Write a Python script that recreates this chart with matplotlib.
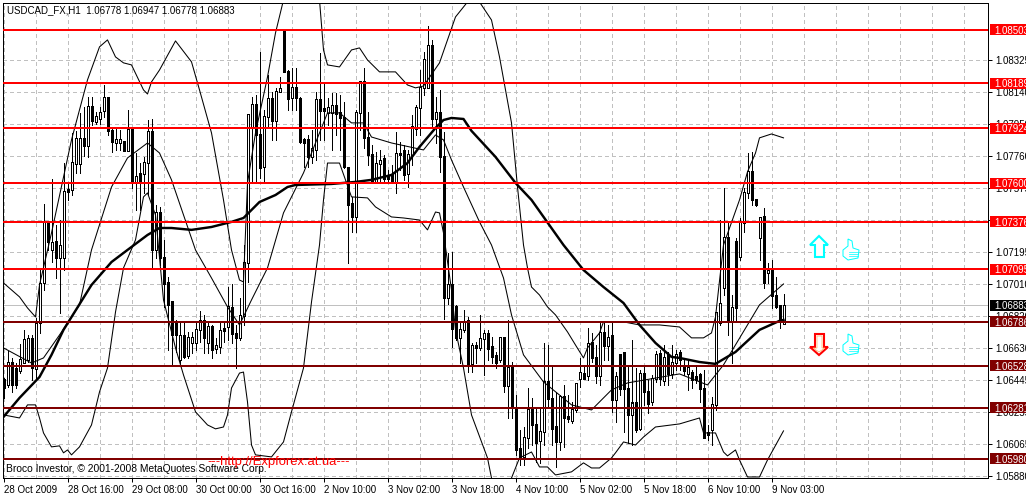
import matplotlib
matplotlib.use("Agg")
import matplotlib.pyplot as plt
import numpy as np
from matplotlib.lines import Line2D
from matplotlib.patches import Polygon, Rectangle
from matplotlib.transforms import blended_transform_factory

# hourly candles
opens = [
    1.06445, 1.06415, 1.06550, 1.06509, 1.06503, 1.06550, 1.06562, 1.06686, 1.06509, 1.06780,
    1.07015, 1.07368, 1.07209, 1.07256, 1.07162, 1.07162, 1.07562, 1.07562, 1.07720, 1.07720,
    1.07862, 1.07826, 1.08050, 1.07962, 1.07979, 1.08026, 1.08103, 1.07909, 1.07838, 1.07838,
    1.07844, 1.07791, 1.07915, 1.07609, 1.07656, 1.07656, 1.07726, 1.07903, 1.07209, 1.07427,
    1.07162, 1.07015, 1.06903, 1.06786, 1.06562, 1.06703, 1.06586, 1.06662, 1.06662, 1.06739,
    1.06797, 1.06662, 1.06756, 1.06627, 1.06639, 1.06750, 1.06756, 1.06868, 1.06715, 1.06697,
    1.06821, 1.07138, 1.07932, 1.08062, 1.07885, 1.07697, 1.07991, 1.08097, 1.07973, 1.08138,
    1.08503, 1.08256, 1.08103, 1.08167, 1.08097, 1.07856, 1.07856, 1.07756, 1.07797, 1.08091,
    1.08038, 1.08020, 1.08015, 1.08056, 1.08015, 1.07985, 1.07691, 1.07480, 1.07403, 1.08020,
    1.08197, 1.07868, 1.07768, 1.07609, 1.07720, 1.07744, 1.07644, 1.07650, 1.07609, 1.07779,
    1.07791, 1.07656, 1.07768, 1.07926, 1.08044, 1.08167, 1.08167, 1.08414, 1.07979, 1.08015,
    1.07756, 1.06927, 1.07003, 1.06874, 1.06692, 1.06739, 1.06797, 1.06539, 1.06650, 1.06633,
    1.06686, 1.06715, 1.06639, 1.06586, 1.06562, 1.06692, 1.06409, 1.06515, 1.06280, 1.06039,
    1.05992, 1.06109, 1.06268, 1.06180, 1.06086, 1.06139, 1.06433, 1.06333, 1.06168, 1.06080,
    1.06345, 1.06227, 1.06209, 1.06268, 1.06451, 1.06485, 1.06468, 1.06662, 1.06574, 1.06468,
    1.06721, 1.06645, 1.06703, 1.06327, 1.06592, 1.06603, 1.06392, 1.06239, 1.06309, 1.06162,
    1.06485, 1.06374, 1.06315, 1.06456, 1.06598, 1.06439, 1.06592, 1.06485, 1.06550, 1.06603,
    1.06521, 1.06485, 1.06491, 1.06462, 1.06474, 1.06397, 1.06133, 1.06151, 1.06298, 1.06780,
    1.06986, 1.07280, 1.06786, 1.07256, 1.07168, 1.07368, 1.07544, 1.07668, 1.07503, 1.07285,
    1.07403, 1.07074, 1.07091, 1.06944, 1.06880, 1.06778,
]
highs = [
    1.06456, 1.06615, 1.06574, 1.06544, 1.06656, 1.06739, 1.06709, 1.06709, 1.06809, 1.07091,
    1.07480, 1.07374, 1.07626, 1.07356, 1.07385, 1.07720, 1.07609, 1.07897, 1.07909, 1.08015,
    1.08050, 1.08109, 1.08109, 1.08020, 1.08050, 1.08179, 1.08103, 1.07932, 1.07932, 1.07915,
    1.07844, 1.08032, 1.07915, 1.07779, 1.07720, 1.07756, 1.07973, 1.07979, 1.07474, 1.07462,
    1.07268, 1.07050, 1.06903, 1.06797, 1.06786, 1.06786, 1.06727, 1.06727, 1.06786, 1.06850,
    1.06827, 1.06780, 1.06768, 1.06692, 1.06780, 1.06780, 1.06991, 1.07009, 1.06768, 1.06927,
    1.07238, 1.08003, 1.08109, 1.08120, 1.08373, 1.08032, 1.08238, 1.08138, 1.08162, 1.08226,
    1.08503, 1.08267, 1.08279, 1.08279, 1.08109, 1.07868, 1.07885, 1.07915, 1.08138, 1.08367,
    1.08185, 1.08103, 1.08132, 1.08132, 1.08120, 1.08079, 1.07691, 1.07521, 1.08032, 1.08197,
    1.08279, 1.08020, 1.07826, 1.07785, 1.07797, 1.07768, 1.07679, 1.07709, 1.07903, 1.07844,
    1.07826, 1.07797, 1.08003, 1.08062, 1.08267, 1.08373, 1.08526, 1.08444, 1.08109, 1.08150,
    1.07903, 1.07191, 1.07197, 1.06886, 1.06786, 1.06856, 1.06815, 1.06662, 1.06668, 1.06827,
    1.06739, 1.06739, 1.06697, 1.06609, 1.06697, 1.06697, 1.06797, 1.06550, 1.06356, 1.06151,
    1.06168, 1.06397, 1.06339, 1.06280, 1.06280, 1.06662, 1.06650, 1.06533, 1.06374, 1.06356,
    1.06415, 1.06356, 1.06315, 1.06421, 1.06574, 1.06533, 1.06750, 1.06721, 1.06650, 1.06786,
    1.06792, 1.06768, 1.06786, 1.06491, 1.06592, 1.06609, 1.06521, 1.06680, 1.06515, 1.06503,
    1.06521, 1.06445, 1.06474, 1.06615, 1.06621, 1.06650, 1.06609, 1.06650, 1.06621, 1.06621,
    1.06574, 1.06562, 1.06503, 1.06533, 1.06485, 1.06503, 1.06180, 1.06345, 1.06845, 1.07385,
    1.07574, 1.07374, 1.06944, 1.07280, 1.07397, 1.07574, 1.07779, 1.07785, 1.07503, 1.07397,
    1.07456, 1.07133, 1.07150, 1.07050, 1.06880, 1.06947,
]
lows = [
    1.06339, 1.06403, 1.06374, 1.06397, 1.06485, 1.06550, 1.06550, 1.06445, 1.06456, 1.06721,
    1.06974, 1.07209, 1.07138, 1.07044, 1.06839, 1.07091, 1.07503, 1.07532, 1.07662, 1.07662,
    1.07762, 1.07756, 1.07944, 1.07950, 1.07950, 1.07991, 1.07885, 1.07785, 1.07797, 1.07797,
    1.07791, 1.07791, 1.07574, 1.07444, 1.07444, 1.07544, 1.07532, 1.07103, 1.07162, 1.07121,
    1.06874, 1.06621, 1.06533, 1.06609, 1.06544, 1.06574, 1.06574, 1.06603, 1.06621, 1.06668,
    1.06603, 1.06603, 1.06574, 1.06603, 1.06603, 1.06668, 1.06680, 1.06662, 1.06515, 1.06680,
    1.06768, 1.07021, 1.07603, 1.07603, 1.07632, 1.07603, 1.07932, 1.07856, 1.07856, 1.08138,
    1.08256, 1.08032, 1.08032, 1.08032, 1.07838, 1.07697, 1.07697, 1.07720, 1.07738, 1.07856,
    1.07856, 1.07944, 1.07797, 1.07885, 1.07797, 1.07691, 1.07133, 1.07315, 1.07315, 1.07915,
    1.07809, 1.07709, 1.07609, 1.07609, 1.07609, 1.07603, 1.07609, 1.07609, 1.07544, 1.07679,
    1.07621, 1.07579, 1.07709, 1.07885, 1.07885, 1.08120, 1.08162, 1.07926, 1.07838, 1.07668,
    1.06803, 1.06891, 1.06639, 1.06680, 1.06544, 1.06727, 1.06491, 1.06491, 1.06544, 1.06621,
    1.06474, 1.06562, 1.06544, 1.06515, 1.06550, 1.06374, 1.06221, 1.06221, 1.06004, 1.05945,
    1.05945, 1.06045, 1.06062, 1.05962, 1.05957, 1.06062, 1.06280, 1.06062, 1.05933, 1.06033,
    1.06051, 1.06198, 1.06192, 1.06257, 1.06403, 1.06456, 1.06445, 1.06550, 1.06427, 1.06415,
    1.06562, 1.06562, 1.06257, 1.06198, 1.06356, 1.06139, 1.06074, 1.06062, 1.06139, 1.06151,
    1.06298, 1.06251, 1.06298, 1.06433, 1.06415, 1.06415, 1.06415, 1.06456, 1.06503, 1.06503,
    1.06474, 1.06386, 1.06397, 1.06427, 1.06315, 1.06104, 1.06092, 1.06062, 1.06268, 1.06768,
    1.06944, 1.06709, 1.06544, 1.06797, 1.07150, 1.07315, 1.07515, 1.07474, 1.07468, 1.07150,
    1.06986, 1.07015, 1.06868, 1.06868, 1.06750, 1.06778,
]
closes = [
    1.06403, 1.06550, 1.06415, 1.06415, 1.06562, 1.06680, 1.06686, 1.06515, 1.06774, 1.07009,
    1.07374, 1.07256, 1.07250, 1.07162, 1.07238, 1.07550, 1.07550, 1.07726, 1.07862, 1.07862,
    1.07826, 1.08050, 1.07968, 1.07991, 1.08015, 1.08103, 1.07909, 1.07844, 1.07856, 1.07856,
    1.07791, 1.07915, 1.07609, 1.07638, 1.07603, 1.07726, 1.07903, 1.07209, 1.07427, 1.07162,
    1.07009, 1.06886, 1.06709, 1.06709, 1.06703, 1.06580, 1.06692, 1.06692, 1.06739, 1.06797,
    1.06692, 1.06756, 1.06621, 1.06650, 1.06733, 1.06733, 1.06874, 1.06715, 1.06697, 1.06821,
    1.07138, 1.08003, 1.08062, 1.07885, 1.07691, 1.07991, 1.08097, 1.07973, 1.08138, 1.08156,
    1.08256, 1.08097, 1.08167, 1.08103, 1.07844, 1.07838, 1.07756, 1.07803, 1.08091, 1.08026,
    1.08026, 1.08044, 1.08056, 1.08009, 1.07985, 1.07697, 1.07474, 1.07403, 1.08020, 1.08197,
    1.07868, 1.07768, 1.07609, 1.07720, 1.07732, 1.07632, 1.07632, 1.07609, 1.07779, 1.07768,
    1.07650, 1.07768, 1.07932, 1.08044, 1.08167, 1.08326, 1.08414, 1.07979, 1.08015, 1.07756,
    1.06927, 1.07003, 1.06750, 1.06697, 1.06739, 1.06786, 1.06533, 1.06650, 1.06633, 1.06686,
    1.06715, 1.06627, 1.06580, 1.06550, 1.06692, 1.06409, 1.06515, 1.06280, 1.06033, 1.05986,
    1.06109, 1.06268, 1.06180, 1.06074, 1.06139, 1.06433, 1.06333, 1.06162, 1.06080, 1.06345,
    1.06221, 1.06215, 1.06268, 1.06421, 1.06491, 1.06456, 1.06656, 1.06574, 1.06468, 1.06721,
    1.06645, 1.06692, 1.06327, 1.06462, 1.06392, 1.06397, 1.06239, 1.06309, 1.06151, 1.06480,
    1.06374, 1.06309, 1.06451, 1.06592, 1.06451, 1.06574, 1.06480, 1.06550, 1.06592, 1.06562,
    1.06503, 1.06515, 1.06445, 1.06445, 1.06392, 1.06109, 1.06121, 1.06303, 1.06839, 1.06897,
    1.07280, 1.06786, 1.06868, 1.06868, 1.07368, 1.07544, 1.07668, 1.07503, 1.07474, 1.07397,
    1.07015, 1.07091, 1.06944, 1.06874, 1.06797, 1.06883,
]

# thick moving average, sampled at bar numbers
ma_bars = [0, 4, 9, 12, 15, 22, 27, 31, 36, 39, 42, 47, 52, 57, 60, 64, 68, 71, 73, 82, 88, 92, 97, 101,
           104, 108, 110, 112, 115, 117, 123, 128, 132, 140, 145, 150, 155, 159, 163, 167, 169, 174,
           178, 183, 189, 194, 195]
ma_vals = [1.06227, 1.06339, 1.06462, 1.06592, 1.06739, 1.07003, 1.07138, 1.07209, 1.07297, 1.07338,
           1.07338, 1.07327, 1.07344, 1.07374, 1.07397, 1.07491, 1.07532, 1.07579, 1.07591, 1.07597,
           1.07609, 1.07621, 1.07650, 1.07720, 1.07815, 1.07926, 1.07973, 1.07985, 1.07979, 1.07909,
           1.07756, 1.07603, 1.07503, 1.07238, 1.07091, 1.06991, 1.06897, 1.06768, 1.06662, 1.06580,
           1.06574, 1.06550, 1.06539, 1.06609, 1.06739, 1.06792, 1.06797]

# bollinger middle
mid_bars = [0, 7, 10, 14, 19, 22, 27, 31, 36, 39, 42, 48, 52, 56, 59, 62, 66, 70, 75, 77, 81, 84, 87, 90,
            92, 97, 105, 108, 110, 112, 115, 119, 122, 125, 127, 130, 135, 142, 147, 152, 156, 169,
            176, 180, 189, 195]
mid_vals = [1.06633, 1.06544, 1.06574, 1.06709, 1.06886, 1.07209, 1.07579, 1.07750, 1.07838, 1.07779,
            1.07621, 1.07209, 1.07044, 1.06874, 1.06768, 1.06915, 1.07103, 1.07427, 1.07662, 1.07779,
            1.08015, 1.08015, 1.07956, 1.07956, 1.07873, 1.07838, 1.07797, 1.07885, 1.07856, 1.07738,
            1.07579, 1.07374, 1.07238, 1.07044, 1.06827, 1.06592, 1.06433, 1.06298, 1.06268, 1.06386,
            1.06427, 1.06480, 1.06415, 1.06533, 1.06886, 1.07009]

# bollinger upper
up_bars = [0, 4, 6, 8, 9, 12, 17, 21, 24, 26, 28, 30, 32, 35, 36, 37, 39, 43, 47, 49, 52, 55, 57, 59, 60,
           61, 63, 66, 68, 70, 74, 79, 80, 81, 84, 87, 89, 91, 94, 98, 101, 103, 105, 109, 113, 116,
           119, 122, 124, 127, 128.5, 130, 131, 132, 134, 136, 138, 141, 143, 145, 146, 149, 150, 155,
           159, 164, 169, 172, 175, 177, 178, 180, 184, 186, 188, 189, 192, 195]
up_vals = [1.07015, 1.06933, 1.06868, 1.06815, 1.07003, 1.07309, 1.07856, 1.08209, 1.08403, 1.08444,
           1.08344, 1.08309, 1.08297, 1.08150, 1.08126, 1.08197, 1.08267, 1.08438, 1.08315, 1.08150,
           1.07897, 1.07503, 1.07209, 1.07032, 1.07021, 1.07603, 1.07897, 1.08226, 1.08485, 1.08679,
           1.08914, 1.08679, 1.08385, 1.08297, 1.08285, 1.08385, 1.08397, 1.08326, 1.08256, 1.08256,
           1.08179, 1.08162, 1.08173, 1.08309, 1.08579, 1.08667, 1.08667, 1.08561, 1.08344, 1.07956,
           1.07579, 1.07238, 1.07103, 1.06991, 1.06944, 1.06874, 1.06827, 1.06727, 1.06650, 1.06574,
           1.06633, 1.06721, 1.06786, 1.06786, 1.06768, 1.06768, 1.06756, 1.06692, 1.06692, 1.06721,
           1.06815, 1.07238, 1.07503, 1.07668, 1.07779, 1.07868, 1.07891, 1.07868]

# bollinger lower
low_bars = [0, 4, 6, 8, 9, 10, 12, 14, 15, 16, 17, 19, 22, 24, 26, 28, 30, 33, 35, 36, 38, 40, 43, 45, 48,
            51, 53, 55, 56, 57, 59, 60, 61, 62, 63, 67, 70, 72, 75, 77, 79, 80, 81, 84, 87, 91, 93, 97,
            100, 104, 106, 108, 109, 110, 112, 113, 115, 117, 121, 122, 124, 127, 129, 132, 134, 136,
            138, 142, 145, 147, 149, 152, 153, 155, 158, 160, 163, 169, 174, 175, 178, 180, 181, 183,
            184, 186, 189, 191, 195]
low_vals = [1.06239, 1.06221, 1.06298, 1.06298, 1.06221, 1.06133, 1.06051, 1.06057, 1.06016, 1.06033,
            1.06004, 1.06051, 1.06180, 1.06374, 1.06515, 1.06844, 1.07103, 1.07268, 1.07521, 1.07544,
            1.07415, 1.06915, 1.06633, 1.06474, 1.06257, 1.06180, 1.06157, 1.06168, 1.06239, 1.06397,
            1.06485, 1.06491, 1.06315, 1.06062, 1.06004, 1.05992, 1.06080, 1.06257, 1.06515, 1.06903,
            1.07238, 1.07503, 1.07720, 1.07720, 1.07521, 1.07515, 1.07462, 1.07403, 1.07397, 1.07385,
            1.07327, 1.07432, 1.07427, 1.07309, 1.06974, 1.06739, 1.06515, 1.06239, 1.05986, 1.05868,
            1.05768, 1.05868, 1.05986, 1.06021, 1.05933, 1.05933, 1.05886, 1.05904, 1.05957, 1.05927,
            1.05927, 1.05986, 1.06016, 1.06080, 1.06062, 1.06109, 1.06168, 1.06186, 1.06221, 1.06133,
            1.06133, 1.06021, 1.05998, 1.06033, 1.05974, 1.05874, 1.05874, 1.05974, 1.06145]

red_levels = [1.08503, 1.08189, 1.07924, 1.07600, 1.07376, 1.07095]
dark_levels = [1.06786, 1.06528, 1.06281, 1.05980]
last_price = 1.06883

price_ticks = [1.08325, 1.08140, 1.07950, 1.07760, 1.07575, 1.07385, 1.07195, 1.07010, 1.06820,
               1.06630, 1.06445, 1.06255, 1.06065, 1.05880]
time_labels = ['28 Oct 2009', '28 Oct 16:00', '29 Oct 08:00', '30 Oct 00:00', '30 Oct 16:00',
               '2 Nov 10:00', '3 Nov 02:00', '3 Nov 18:00', '4 Nov 10:00', '5 Nov 02:00',
               '5 Nov 18:00', '6 Nov 10:00', '9 Nov 03:00']

plt.rcParams['font.family'] = ['Liberation Sans', 'DejaVu Sans']
FS = 7.0
W, H = 1026, 495
fig = plt.figure(figsize=(W / 100, H / 100), dpi=100)
ax = fig.add_axes([3 / W, 1 - 478 / H, 985 / W, 475 / H])
ax.set_xlim(-0.125, 246.125)
ax.set_ylim(1.05868, 1.08661)
one_px = (1.08661 - 1.05868) / 475

bars = np.arange(len(opens))
opens, highs, lows, closes = map(np.array, (opens, highs, lows, closes))
up = closes >= opens
tops = np.maximum(opens, closes)
bots = np.minimum(opens, closes)

# wicks, then 3 px black bodies, then a 1 px white slot for the rising bars
ax.vlines(bars, lows, highs, color='black', lw=0.72, antialiased=False, capstyle='butt', zorder=3)
ax.vlines(bars, bots - one_px / 2, tops + one_px / 2, color='black', lw=2.16, antialiased=False,
          capstyle='butt', zorder=4)
slot = up & (tops - bots > 1.5 * one_px)
ax.vlines(bars[slot], bots[slot] + one_px / 2, tops[slot] - one_px / 2, color='white', lw=0.6,
          antialiased=False, capstyle='butt', zorder=4.5)

ax.plot(up_bars, up_vals, color='black', lw=0.75, zorder=5)
ax.plot(mid_bars, mid_vals, color='black', lw=0.75, zorder=5)
ax.plot(low_bars, low_vals, color='black', lw=0.75, zorder=5)
ax.plot(ma_bars, ma_vals, color='black', lw=1.75, zorder=6)

ax.axhline(last_price, color='#c0c0c0', lw=0.72, antialiased=False, zorder=2)
for level in red_levels:
    ax.axhline(level, color='#ff0000', lw=1.4, antialiased=False, zorder=7)
for level in dark_levels:
    ax.axhline(level, color='#800000', lw=1.4, antialiased=False, zorder=7)

# axes, grid
ax.yaxis.tick_right()
ax.set_yticks(price_ticks)
ax.set_yticklabels([f'{p:.5f}' for p in price_ticks])
ax.set_xticks(np.arange(0, 16 * len(time_labels), 16))
ax.set_xticks(np.arange(0, 246, 8), minor=True)
ax.set_xticklabels(time_labels, ha='left')
ax.tick_params(axis='both', which='major', labelsize=FS, length=3, width=0.72, colors='black')
ax.tick_params(axis='x', which='minor', length=0)
ax.tick_params(axis='x', which='major', pad=2)
ax.tick_params(axis='y', which='major', pad=2.5)
ax.grid(True, which='both', color='#c0c0c0', lw=0.72, linestyle=(0, (3, 3)), antialiased=False, zorder=1)
ax.set_axisbelow(True)
for spine in ax.spines.values():
    spine.set_linewidth(0.72)
    spine.set_color('black')

# price tags on the right edge
tags = blended_transform_factory(ax.transAxes, ax.transData)
def tag(price, face):
    ax.add_patch(Rectangle((1.0025, price - 5.5 * one_px), 0.045, 11 * one_px, transform=tags,
                           facecolor=face, edgecolor='none', clip_on=False, zorder=8))
    ax.text(1.0065, price, f'{price:.5f}', transform=tags, color='white', fontsize=FS, va='center_baseline',
            ha='left', clip_on=False, zorder=9)
for level in red_levels:
    tag(level, '#ff0000')
for level in dark_levels:
    tag(level, '#800000')
tag(last_price, 'black')

# text on the chart
ax.text(4 / 985, 1 - 7 / 475, 'USDCAD_FX,H1  1.06778 1.06947 1.06778 1.06883', transform=ax.transAxes,
        fontsize=FS, va='center', ha='left', color='black', zorder=10)
ax.text(3 / 985, 9 / 475, 'Broco Investor, © 2001-2008 MetaQuotes Software Corp.', transform=ax.transAxes,
        fontsize=7.4, va='center', ha='left', color='black', zorder=10)
ax.text(204 / 985, 16 / 475, '---http://Expforex.at.ua---', transform=ax.transAxes,
        fontsize=9.4, va='center', ha='left', color='#ff0000', zorder=10)

# signal arrows and thumbs, in pixels of the picture
def px(points):
    return [(x / W, 1 - y / H) for x, y in points]

fig.add_artist(Polygon(px([(819, 236), (828, 245), (824, 245), (824, 257), (815, 257), (815, 245), (810, 245)]),
                       closed=True, facecolor='white', edgecolor='#00ffff', lw=1.5, transform=fig.transFigure))
fig.add_artist(Polygon(px([(819, 355), (828, 347), (824, 347), (824, 334), (815, 334), (815, 347), (810, 347)]),
                       closed=True, facecolor='white', edgecolor='#ff0000', lw=1.5, transform=fig.transFigure))
fig.add_artist(Polygon(px([(819, 352), (825, 348), (822, 348), (822, 336), (817, 336), (817, 348), (813, 348)]),
                       closed=True, facecolor='none', edgecolor='#ffb060', lw=0.5, transform=fig.transFigure))
thumb = [(-8, 6), (-8, 0), (-3, -4), (-3, -11), (1, -9), (2, -2), (8, 0), (7, 8), (-3, 10)]
for cx, cy in [(851, 250), (851, 345)]:
    fig.add_artist(Polygon(px([(cx + dx, cy + dy) for dx, dy in thumb]), closed=True, facecolor='white',
                           edgecolor='#00ffff', lw=0.72, transform=fig.transFigure))
    for dy in (2, 4, 6):
        xs, ys = zip(*px([(cx - 2, cy + dy), (cx + 7, cy + dy)]))
        fig.add_artist(Line2D(xs, ys, color='#00ffff', lw=0.5, transform=fig.transFigure))

fig.savefig('out.png', dpi=100)
